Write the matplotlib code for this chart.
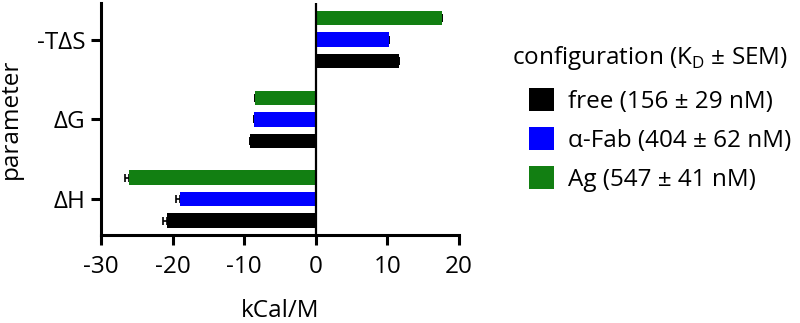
import matplotlib
matplotlib.use("Agg")
import matplotlib.pyplot as plt
import numpy as np

plt.rcParams['font.family'] = ['Open Sans', 'DejaVu Sans']
plt.rcParams['mathtext.fontset'] = 'custom'
plt.rcParams['mathtext.rm'] = 'Open Sans'

parameters = ['ΔH', 'ΔG', '-TΔS']
series_labels = ['free (156 ± 29 nM)', 'α-Fab (404 ± 62 nM)', 'Ag (547 ± 41 nM)']
free_vals = [-20.75, -9.2, 11.65]
fab_vals = [-18.9, -8.6, 10.25]
ag_vals = [-26.1, -8.5, 17.6]
free_err = [0.55, 0.0, 0.0]
fab_err = [0.6, 0.0, 0.0]
ag_err = [0.55, 0.0, 0.0]
colors = ['#000000', '#0000ff', '#127f12']
xticks = [-30, -20, -10, 0, 10, 20]
legend_title = 'configuration (K$_\\mathrm{D}$ ± SEM)'

FS = 17.5

fig = plt.figure(figsize=(8, 3.23), dpi=100)
ax = fig.add_axes([101/800, 1 - 235/323, (459-101)/800, (235-3)/323])

y = np.arange(len(parameters))
offsets = [-0.27, 0.0, 0.27]
h = 0.18
handles = []
for vals, errs, col, off, lab in zip([free_vals, fab_vals, ag_vals],
                                     [free_err, fab_err, ag_err],
                                     colors, offsets, series_labels):
    b = ax.barh(y + off, vals, height=h, color=col, zorder=3, label=lab)
    handles.append(b)
    e = np.array(errs)
    ax.errorbar(vals, y + off, xerr=[e, np.zeros_like(e)], fmt='none',
                ecolor='black', elinewidth=1.2, capsize=3, capthick=1.2, zorder=2)

ax.axvline(0, color='black', lw=1.6, zorder=4)
ax.set_xlim(-30, 20)
ax.set_ylim(-0.45, 2.46)
ax.set_xticks(xticks)
ax.set_xticklabels([str(t) for t in xticks])
ax.set_yticks(y)
ax.set_yticklabels(parameters)
for s in ['top', 'right']:
    ax.spines[s].set_visible(False)
for s in ['left', 'bottom']:
    ax.spines[s].set_linewidth(2.2)
ax.tick_params(axis='both', width=2.2, length=7, labelsize=FS, color='black')
ax.tick_params(axis='x', pad=7.5)
ax.tick_params(axis='y', pad=4)
ax.set_xlabel('kCal/M', fontsize=FS, labelpad=14)
ax.set_ylabel('parameter', fontsize=FS, labelpad=10)

fig.text(512/800, 1 - 58/323, legend_title, fontsize=FS, ha='left', va='center')
leg = fig.legend(handles=handles, labels=series_labels,
                 loc='upper left', bbox_to_anchor=(529/800, 1 - 88/323),
                 frameon=False, fontsize=FS,
                 handlelength=1.03, handleheight=1.1, handletextpad=0.58,
                 labelspacing=0.54, borderpad=0, borderaxespad=0)

fig.savefig('out.png', dpi=100)
